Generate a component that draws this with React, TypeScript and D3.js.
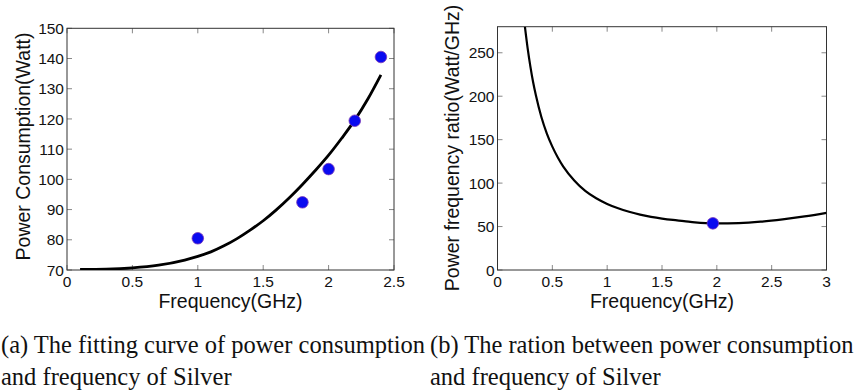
import React from "react";
import * as d3 from "d3";

// Panel (a): measured points and fitted curve
const measuredFreq = [1.0, 1.8, 2.0, 2.2, 2.4];
const measuredPower = [80.5, 92.4, 103.4, 119.4, 140.5];
const fitFreq = [0.1, 0.3, 0.5, 0.7, 0.9, 1.0, 1.1, 1.2, 1.3, 1.4, 1.5, 1.6, 1.7, 1.8, 1.9, 2.0, 2.1, 2.2, 2.3, 2.4];
const fitPower = [70.2, 70.3, 70.7, 71.6, 73.3, 74.5, 76.0, 78.0, 80.4, 83.2, 86.3, 89.9, 93.9, 98.3, 103.0, 108.0, 113.6, 119.6, 126.6, 134.6];

// Panel (b): power / frequency ratio curve and optimum
const ratioFreq = [0.25, 0.275, 0.3, 0.325, 0.35, 0.4, 0.45, 0.5, 0.55, 0.6, 0.7, 0.8, 0.9, 1.0, 1.1, 1.2, 1.3, 1.4, 1.5, 1.6, 1.7, 1.8, 1.9, 2.0, 2.2, 2.4, 2.6, 2.8, 3.0];
const ratioValue = [280, 255, 234, 216, 201, 176, 157, 142, 129.5, 119, 103, 91, 82.5, 76, 71, 67, 63.7, 61.2, 59.2, 57.6, 56.3, 54.8, 53.9, 53.6, 54.0, 55.6, 58.3, 61.7, 65.8];
const optimumFreq = [1.964];
const optimumRatio = [53.7];

const xTicksA = [0, 0.5, 1, 1.5, 2, 2.5];
const yTicksA = [70, 80, 90, 100, 110, 120, 130, 140, 150];
const xTicksB = [0, 0.5, 1, 1.5, 2, 2.5, 3];
const yTicksB = [0, 50, 100, 150, 200, 250];

const captionA = ["(a) The fitting curve of power consumption", "and frequency of Silver"];
const captionB = ["(b) The ration between power consumption", "and frequency of Silver"];

const SANS = "'Liberation Sans', Arial, Helvetica, sans-serif";
const SERIF = "'Liberation Serif', 'Times New Roman', serif";

type PanelProps = {
  x0: number; x1: number; y0: number; y1: number;
  xDomain: [number, number]; yDomain: [number, number];
  xTicks: number[]; yTicks: number[];
  lineX: number[]; lineY: number[];
  ptX: number[]; ptY: number[];
  yLabel: string; yLabelX: number; yLabelY: number;
  lineWidth: number;
};

function Panel(p: PanelProps) {
  const xs = d3.scaleLinear().domain(p.xDomain).range([p.x0, p.x1]);
  const ys = d3.scaleLinear().domain(p.yDomain).range([p.y1, p.y0]);
  const pts = p.lineX.map((x, i) => [x, p.lineY[i]] as [number, number]);
  const line = d3
    .line<[number, number]>()
    .x((d) => xs(d[0]))
    .y((d) => ys(d[1]))
    .curve(d3.curveMonotoneX);
  const tl = 5;
  const tickColor = "#888";
  return (
    <g>
      <defs>
        <clipPath id={`clip-${p.x0}`}>
          <rect x={p.x0} y={p.y0} width={p.x1 - p.x0} height={p.y1 - p.y0} />
        </clipPath>
      </defs>
      {p.xTicks.map((t) => (
        <g key={`xt${t}`}>
          <line x1={xs(t)} x2={xs(t)} y1={p.y1} y2={p.y1 - tl} stroke={tickColor} strokeWidth={1} />
          <line x1={xs(t)} x2={xs(t)} y1={p.y0} y2={p.y0 + tl} stroke={tickColor} strokeWidth={1} />
          <text x={xs(t)} y={p.y1 + 17} textAnchor="middle" fontFamily={SANS} fontSize={15.5} fill="#111">
            {String(t)}
          </text>
        </g>
      ))}
      {p.yTicks.map((t) => (
        <g key={`yt${t}`}>
          <line x1={p.x0} x2={p.x0 + tl} y1={ys(t)} y2={ys(t)} stroke={tickColor} strokeWidth={1} />
          <line x1={p.x1} x2={p.x1 - tl} y1={ys(t)} y2={ys(t)} stroke={tickColor} strokeWidth={1} />
          <text x={p.x0 - 3} y={ys(t)} dy="0.36em" textAnchor="end" fontFamily={SANS} fontSize={15.5} fill="#111">
            {String(t)}
          </text>
        </g>
      ))}
      <rect x={p.x0} y={p.y0} width={p.x1 - p.x0} height={p.y1 - p.y0} fill="none" stroke="#333" strokeWidth={1} />
      <path d={line(pts) || ""} fill="none" stroke="#000" strokeWidth={p.lineWidth} clipPath={`url(#clip-${p.x0})`} />
      {p.ptX.map((x, i) => (
        <circle key={`p${i}`} cx={xs(x)} cy={ys(p.ptY[i])} r={5.8} fill="#0a0af0" stroke="#7b3ab8" strokeWidth={0.8} />
      ))}
      <text x={(p.x0 + p.x1) / 2} y={308} textAnchor="middle" fontFamily={SANS} fontSize={19.5} fill="#111">
        Frequency(GHz)
      </text>
      <text
        transform={`translate(${p.yLabelX},${p.yLabelY}) rotate(-90)`}
        textAnchor="middle"
        dy="0.36em"
        fontFamily={SANS}
        fontSize={19.5}
        fill="#111"
      >
        {p.yLabel}
      </text>
    </g>
  );
}

export default function App() {
  return (
    <svg
      width={868}
      height={390}
      style={{ position: "absolute", left: 0, top: 0, background: "#fff" }}
    >
      <rect x={0} y={0} width={868} height={390} fill="#fff" />
      <Panel
        x0={67} x1={394} y0={28.3} y1={270}
        xDomain={[0, 2.5]} yDomain={[70, 150]}
        xTicks={xTicksA} yTicks={yTicksA}
        lineX={fitFreq} lineY={fitPower}
        ptX={measuredFreq} ptY={measuredPower}
        yLabel="Power Consumption(Watt)" yLabelX={23} yLabelY={146.5}
        lineWidth={2.8}
      />
      <Panel
        x0={497.5} x1={826.5} y0={26.7} y1={270}
        xDomain={[0, 3]} yDomain={[0, 280]}
        xTicks={xTicksB} yTicks={yTicksB}
        lineX={ratioFreq} lineY={ratioValue}
        ptX={optimumFreq} ptY={optimumRatio}
        yLabel="Power frequency ratio(Watt/GHz)" yLabelX={452} yLabelY={148}
        lineWidth={2.2}
      />
      {captionA.map((s, i) => (
        <text key={`ca${i}`} x={1} y={353 + i * 31.5} fontFamily={SERIF} fontSize={24.5} fill="#111">
          {s}
        </text>
      ))}
      {captionB.map((s, i) => (
        <text key={`cb${i}`} x={430} y={353 + i * 31.5} fontFamily={SERIF} fontSize={24.5} fill="#111">
          {s}
        </text>
      ))}
    </svg>
  );
}
